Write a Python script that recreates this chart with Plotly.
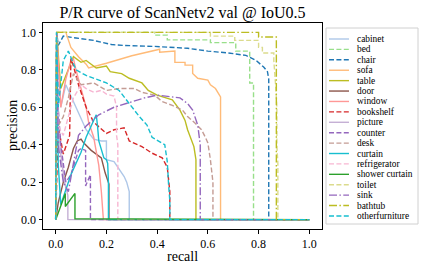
import plotly.graph_objects as go

# ---------------- data ----------------
class_names = ["cabinet", "bed", "chair", "sofa", "table", "door", "window", "bookshelf",
               "picture", "counter", "desk", "curtain", "refrigerator", "shower curtain",
               "toilet", "sink", "bathtub", "otherfurniture"]

cabinet_r = [0, 0.004, 0.02, 0.04, 0.06, 0.08, 0.1, 0.12, 0.15, 0.18, 0.2, 0.2, 0.23, 0.25, 0.26, 0.27, 0.28, 0.285, 0.29, 0.29, 1.0]
cabinet_p = [0, 1.0, 0.6, 0.72, 0.66, 0.6, 0.54, 0.48, 0.43, 0.42, 0.42, 0.32, 0.31, 0.27, 0.25, 0.23, 0.2, 0.17, 0.15, 0, 0]

bed_r = [0, 0.004, 0.39, 0.39, 0.44, 0.44, 0.61, 0.61, 0.71, 0.71, 0.765, 0.765, 0.78, 0.78, 1.0]
bed_p = [0, 1.0, 1.0, 0.985, 0.985, 0.96, 0.96, 0.945, 0.945, 0.90, 0.90, 0.73, 0.73, 0, 0]

chair_r = [0, 0.004, 0.01, 0.03, 0.08, 0.15, 0.22, 0.27, 0.39, 0.52, 0.6, 0.68, 0.75, 0.79, 0.82, 0.835, 0.84, 0.84, 1.0]
chair_p = [0, 1.0, 0.93, 0.98, 0.97, 0.957, 0.935, 0.93, 0.925, 0.915, 0.90, 0.89, 0.877, 0.85, 0.815, 0.79, 0.75, 0, 0]

sofa_r = [0, 0.004, 0.04, 0.06, 0.09, 0.12, 0.13, 0.2, 0.3, 0.41, 0.41, 0.47, 0.47, 0.51, 0.51, 0.54, 0.54, 0.56, 0.6, 0.61, 0.63, 0.647, 0.65, 0.65, 1.0]
sofa_p = [0, 1.0, 1.0, 0.92, 0.87, 0.83, 0.81, 0.835, 0.875, 0.91, 0.894, 0.9, 0.84, 0.84, 0.825, 0.825, 0.78, 0.755, 0.745, 0.72, 0.70, 0.655, 0.655, 0, 0]

table_r = [0, 0.004, 0.02, 0.05, 0.07, 0.1, 0.12, 0.16, 0.2, 0.215, 0.26, 0.29, 0.34, 0.365, 0.4, 0.46, 0.49, 0.51, 0.52, 0.545, 0.553, 0.553, 1.0]
table_p = [0, 1.0, 0.7, 0.8, 0.87, 0.84, 0.85, 0.81, 0.82, 0.79, 0.78, 0.755, 0.73, 0.69, 0.665, 0.64, 0.585, 0.53, 0.48, 0.39, 0.32, 0, 0]

door_r = [0, 0.01, 0.03, 0.05, 0.07, 0.085, 0.1, 0.11, 0.14, 0.165, 0.18, 0.195, 0.205, 0.21, 0.21, 1.0]
door_p = [0, 0.09, 0.2, 0.28, 0.38, 0.42, 0.43, 0.41, 0.37, 0.345, 0.33, 0.25, 0.2, 0.19, 0, 0]

window_r = [0, 0.004, 0.02, 0.04, 0.06, 0.07, 0.08, 0.1, 0.12, 0.13, 0.14, 0.15, 0.155, 0.17, 0.18, 0.185, 0.188, 1.0]
window_p = [0, 1.0, 0.6, 0.75, 0.85, 0.86, 0.8, 0.7, 0.6, 0.52, 0.48, 0.44, 0.40, 0.29, 0.15, 0.05, 0, 0]

bookshelf_r = [0, 0.01, 0.03, 0.055, 0.06, 0.07, 0.09, 0.12, 0.15, 0.2, 0.23, 0.27, 0.29, 0.34, 0.38, 0.42, 0.44, 0.445, 0.45, 0.45, 1.0]
bookshelf_p = [0, 0.5, 0.35, 0.45, 0.86, 0.82, 0.72, 0.6, 0.52, 0.46, 0.48, 0.49, 0.42, 0.39, 0.355, 0.33, 0.28, 0.19, 0.15, 0, 0]

picture_r = [0, 0.004, 0.01, 0.02, 0.035, 0.048, 0.048, 1.0]
picture_p = [0, 1.0, 0.5, 0.35, 0.2, 0.13, 0, 0]

counter_r = [0, 0.004, 0.01, 0.02, 0.04, 0.06, 0.09, 0.1, 0.118, 0.118, 0.137, 0.137, 1.0]
counter_p = [0, 1.0, 0.6, 0.4, 0.2, 0.24, 0.37, 0.38, 0.37, 0.18, 0.24, 0, 0]

desk_r = [0, 0.004, 0.01, 0.03, 0.05, 0.07, 0.09, 0.1, 0.15, 0.2, 0.25, 0.31, 0.34, 0.39, 0.42, 0.46, 0.5, 0.52, 0.55, 0.575, 0.59, 0.6, 0.61, 0.615, 0.62, 0.62, 1.0]
desk_p = [0, 1.0, 0.5, 0.55, 0.65, 0.78, 0.74, 0.72, 0.73, 0.69, 0.70, 0.70, 0.68, 0.665, 0.63, 0.61, 0.585, 0.55, 0.515, 0.48, 0.44, 0.41, 0.32, 0.265, 0.2, 0, 0]

curtain_r = [0, 0.004, 0.01, 0.02, 0.03, 0.045, 0.06, 0.08, 0.1, 0.12, 0.14, 0.16, 0.165, 0.17, 0.19, 0.2, 0.205, 0.208, 0.208, 1.0]
curtain_p = [0, 1.0, 0.3, 0.08, 0.12, 0.18, 0.24, 0.3, 0.36, 0.44, 0.5, 0.56, 0.5, 0.42, 0.33, 0.32, 0.3, 0.2, 0, 0]

refrigerator_r = [0, 0.004, 0.01, 0.03, 0.05, 0.07, 0.1, 0.12, 0.15, 0.18, 0.2, 0.22, 0.23, 0.24, 0.24, 0.245, 0.245, 1.0]
refrigerator_p = [0, 1.0, 0.5, 0.45, 0.55, 0.65, 0.72, 0.70, 0.68, 0.69, 0.67, 0.665, 0.66, 0.6, 0.45, 0.4, 0, 0]

shower_curtain_r = [0, 0.038, 0.038, 0.076, 0.076, 1.0]
shower_curtain_p = [0, 0.14, 0.07, 0.14, 0.005, 0]

toilet_r = [0, 0.004, 0.61, 0.61, 0.706, 0.706, 0.80, 0.80, 0.815, 0.815, 0.86, 0.86, 0.868, 0.872, 0.872, 0.876, 0.876, 1.0]
toilet_p = [0, 1.0, 1.0, 0.98, 0.98, 0.957, 0.957, 0.92, 0.92, 0.89, 0.89, 0.85, 0.7, 0.6, 0.4, 0.3, 0, 0]

sink_r = [0, 0.004, 0.01, 0.03, 0.05, 0.07, 0.09, 0.12, 0.17, 0.23, 0.3, 0.35, 0.4, 0.45, 0.49, 0.52, 0.54, 0.56, 0.565, 0.57, 0.57, 1.0]
sink_p = [0, 1.0, 0.4, 0.2, 0.15, 0.3, 0.45, 0.5, 0.56, 0.6, 0.63, 0.65, 0.665, 0.655, 0.65, 0.62, 0.585, 0.505, 0.46, 0.4, 0, 0]

bathtub_r = [0, 0.004, 0.80, 0.80, 0.87, 0.87, 1.0]
bathtub_p = [0, 1.0, 1.0, 0.975, 0.975, 0, 0]

otherfurniture_r = [0, 0.003, 0.01, 0.03, 0.05, 0.08, 0.12, 0.16, 0.2, 0.25, 0.29, 0.33, 0.36, 0.38, 0.43, 0.44, 0.445, 0.45, 0.45, 1.0]
otherfurniture_p = [0, 1.0, 0.6, 0.85, 0.9, 0.8, 0.77, 0.75, 0.73, 0.69, 0.62, 0.55, 0.505, 0.44, 0.40, 0.31, 0.19, 0.1, 0, 0]

x_tick_vals = [0.0, 0.2, 0.4, 0.6, 0.8, 1.0]
x_tick_text = ["0.0", "0.2", "0.4", "0.6", "0.8", "1.0"]
y_tick_vals = [0.0, 0.2, 0.4, 0.6, 0.8, 1.0]
y_tick_text = ["0.0", "0.2", "0.4", "0.6", "0.8", "1.0"]

recalls = [cabinet_r, bed_r, chair_r, sofa_r, table_r, door_r, window_r, bookshelf_r,
           picture_r, counter_r, desk_r, curtain_r, refrigerator_r, shower_curtain_r,
           toilet_r, sink_r, bathtub_r, otherfurniture_r]
precisions = [cabinet_p, bed_p, chair_p, sofa_p, table_p, door_p, window_p, bookshelf_p,
              picture_p, counter_p, desk_p, curtain_p, refrigerator_p, shower_curtain_p,
              toilet_p, sink_p, bathtub_p, otherfurniture_p]

# ---------------- styles ----------------
colors = ["#aec7e8", "#98df8a", "#1f77b4", "#ffbb78", "#bcbd22", "#8c564b", "#ff9896", "#d62728",
          "#c5b0d5", "#9467bd", "#c49c94", "#17becf", "#f7b6d2", "#2ca02c",
          "#dbdb8d", "#9467bd", "#bcbd22", "#17becf"]
DASH = "5px,2.4px"
DASHDOT = "8px,2.4px,1.5px,2.4px"
styles = ["solid", DASH, DASH, "solid", "solid", "solid", "solid", DASH,
          "solid", DASH, DASH, "solid", DASH, "solid",
          DASH, DASHDOT, DASHDOT, DASH]

FONT = "Liberation Serif"
W, H = 421, 268
L, R, T, B = 43, 99, 23, 39
PW, PH = W - L - R, H - T - B

fig = go.Figure()
for name, r, p, c, d in zip(class_names, recalls, precisions, colors, styles):
    fig.add_trace(go.Scatter(x=r, y=p, mode="lines", name=name,
                             line=dict(color=c, width=1.4, dash=d), showlegend=False))

def px_x(px):
    return (px - L) / PW

def px_y(py):
    return (H - B - py) / PH

# manual legend (matplotlib-style compact)
shapes = [dict(type="rect", xref="paper", yref="paper",
               x0=px_x(326), x1=px_x(418), y0=px_y(224), y1=px_y(28),
               line=dict(color="#d0d0d0", width=1), fillcolor="white", layer="above")]
annotations = []
for i, (name, c, d) in enumerate(zip(class_names, colors, styles)):
    yy = 39 + i * 10.41
    shapes.append(dict(type="line", xref="paper", yref="paper",
                       x0=px_x(329), x1=px_x(349), y0=px_y(yy), y1=px_y(yy),
                       line=dict(color=c, width=1.4, dash=d), layer="above"))
    annotations.append(dict(text=name, xref="paper", yref="paper",
                            x=px_x(355), y=px_y(yy), xanchor="left", yanchor="middle",
                            showarrow=False, font=dict(family=FONT, size=9.4, color="black")))

# axis titles as annotations (fixed positions)
annotations.append(dict(text="recall", xref="paper", yref="paper", x=0.5, y=px_y(256),
                        xanchor="center", yanchor="middle", showarrow=False,
                        font=dict(family=FONT, size=14, color="black")))
annotations.append(dict(text="precision", xref="paper", yref="paper", x=px_x(12), y=0.5,
                        xanchor="center", yanchor="middle", textangle=-90, showarrow=False,
                        font=dict(family=FONT, size=14, color="black")))

fig.update_layout(
    width=W, height=H,
    margin=dict(l=L, r=R, t=T, b=B, pad=0, autoexpand=False),
    paper_bgcolor="white", plot_bgcolor="white",
    title=dict(text="P/R curve of ScanNetv2 val @ IoU0.5", x=(L + PW / 2) / W,
               xanchor="center", y=1 - 12 / H, yanchor="middle",
               font=dict(family=FONT, size=16, color="black")),
    shapes=shapes, annotations=annotations,
    showlegend=False,
)
axis_common = dict(showline=True, linecolor="black", linewidth=1, mirror=True,
                   ticks="outside", ticklen=3.5, tickwidth=1, tickcolor="black",
                   showgrid=False, zeroline=False, automargin=False,
                   tickfont=dict(family=FONT, size=12, color="black"))
fig.update_xaxes(range=[-0.05, 1.05], tickvals=x_tick_vals, ticktext=x_tick_text, **axis_common)
fig.update_yaxes(range=[-0.05, 1.05], tickvals=y_tick_vals, ticktext=y_tick_text, **axis_common)

fig.write_html("out.html", config={"displayModeBar": False, "staticPlot": True},
               post_script="document.body.style.margin='0';document.body.style.padding='0';")
